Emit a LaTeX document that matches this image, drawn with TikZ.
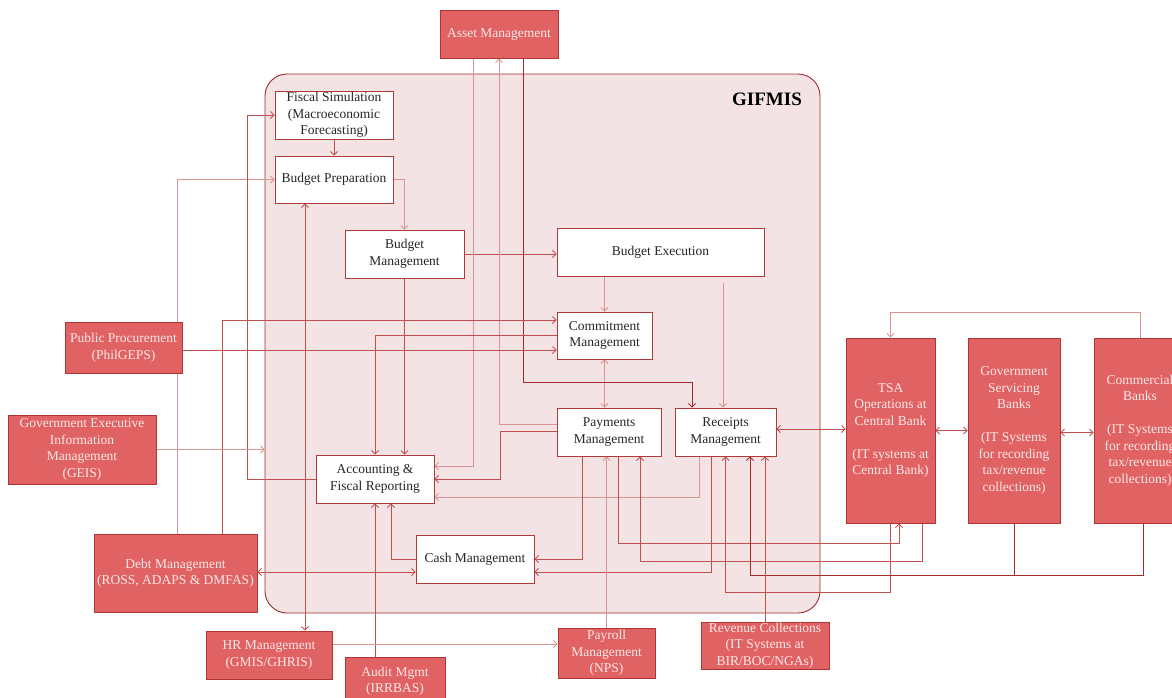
\documentclass[tikz,border=0pt]{standalone}
\usepackage{fontspec}
\setmainfont{Liberation Serif}
\usetikzlibrary{arrows.meta}
\definecolor{redfill}{HTML}{E06262}
\definecolor{extline}{HTML}{B03535}
\definecolor{exttext}{HTML}{FCE8E8}
\definecolor{contfill}{HTML}{F3E3E5}
\definecolor{contline}{HTML}{9B2C2C}
\definecolor{boxline}{HTML}{B03A3A}
\definecolor{lnorm}{HTML}{C0504D}
\definecolor{llight}{HTML}{D99594}
\definecolor{ldark}{HTML}{A52A2A}
\pgfdeclarelayer{back}
\pgfdeclarelayer{bg}
\pgfsetlayers{back,bg,main}
\begin{document}
\begin{tikzpicture}[x=1pt,y=-1pt,
  >={Straight Barb[length=3.5pt,width=7pt]},
  txt/.style={align=center,font=\fontsize{13.5}{16.5}\selectfont,inner sep=0pt},
  inbox/.style={txt,draw=boxline,fill=white,line width=0.9pt,text=black!85},
  extbox/.style={txt,draw=extline,fill=redfill,line width=0.9pt,text=exttext},
  conn/.style={draw=lnorm,line width=0.8pt},
  connl/.style={draw=llight,line width=0.9pt},
  connd/.style={draw=ldark,line width=0.9pt}]
\useasboundingbox (0,0) rectangle (1172,697);

% container
\begin{pgfonlayer}{back}
\node[draw=contline,fill=contfill,line width=0.9pt,rounded corners=22pt,
  minimum width=555pt,minimum height=539pt,inner sep=0pt] (gifmis) at (542.5,343.5) {};
\end{pgfonlayer}
\node[font=\fontsize{19}{22}\selectfont\bfseries,inner sep=0pt] (gtitle) at (767,99) {GIFMIS};

% internal boxes
\node[inbox,minimum width=118pt,minimum height=48pt] (fiscal) at (334,115) {Fiscal Simulation\\(Macroeconomic\\Forecasting)};
\node[inbox,minimum width=118pt,minimum height=47pt] (bprep) at (334,179.5) {Budget Preparation};
\node[inbox,minimum width=119pt,minimum height=48pt] (bmgmt) at (404.5,254) {Budget\\Management};
\node[inbox,minimum width=207pt,minimum height=48pt] (bexec) at (660.5,252) {Budget Execution};
\node[inbox,minimum width=95pt,minimum height=47pt] (commit) at (604.5,335.5) {Commitment\\Management};
\node[inbox,minimum width=104pt,minimum height=48pt] (pay) at (609,432) {Payments\\Management};
\node[inbox,minimum width=101pt,minimum height=48pt] (rec) at (725.5,432) {Receipts\\Management};
\node[inbox,minimum width=118pt,minimum height=48pt] (acct) at (375,479) {Accounting \&\\Fiscal Reporting};
\node[inbox,minimum width=118pt,minimum height=48pt] (cash) at (475,559) {Cash Management};

% external boxes
\node[extbox,minimum width=118pt,minimum height=48pt] (asset) at (499,34) {Asset Management};
\node[extbox,minimum width=117pt,minimum height=51pt] (pp) at (123.5,347.5) {Public Procurement\\(PhilGEPS)};
\node[extbox,minimum width=148pt,minimum height=69pt] (geis) at (82,449.5) {Government Executive\\Information\\Management\\(GEIS)};
\node[extbox,minimum width=163pt,minimum height=78pt] (debt) at (175.5,573) {Debt Management\\(ROSS, ADAPS \& DMFAS)};
\node[extbox,minimum width=126pt,minimum height=48pt] (hr) at (269,655) {HR Management\\(GMIS/GHRIS)};
\node[extbox,minimum width=100pt,minimum height=48pt] (audit) at (395,681) {Audit Mgmt\\(IRRBAS)};
\node[extbox,minimum width=97pt,minimum height=50pt] (payroll) at (606.5,653) {Payroll\\Management\\(NPS)};
\node[extbox,minimum width=128pt,minimum height=47pt] (rev) at (765,645.5) {Revenue Collections\\(IT Systems at\\BIR/BOC/NGAs)};
\node[extbox,minimum width=89pt,minimum height=185pt] (tsa) at (890.5,430.5) {TSA\\Operations at\\Central Bank\\[16.5pt](IT systems at\\Central Bank)};
\node[extbox,minimum width=92pt,minimum height=185pt] (gsb) at (1014,430.5) {Government\\Servicing\\Banks\\[16.5pt](IT Systems\\for recording\\tax/revenue\\collections)};
\node[extbox,minimum width=92pt,minimum height=185pt] (comm) at (1140,430.5) {Commercial\\Banks\\[16.5pt](IT Systems\\for recording\\tax/revenue\\collections)};

\begin{pgfonlayer}{bg}
% budget flow
\draw[conn,->] (fiscal.south) -- (bprep.north);
\draw[connl,->] (bprep.east) -| (bmgmt.north);
\draw[conn,->] (bmgmt.east) -- (bmgmt.east -| bexec.west);
\draw[connl,->] (bexec.south -| commit.north) -- (commit.north);
\draw[connl,->] ([xshift=-2.5pt,yshift=-7pt]bexec.south -| rec.north) -- ([xshift=-2.5pt]rec.north);
\draw[connl,<->] (commit.south) -- (commit.south |- pay.north);
\draw[conn,->] (bmgmt.south) -- (bmgmt.south |- acct.north);
% asset management
\draw[connl,->] ([xshift=-26pt]asset.south) |- ([yshift=13pt]acct.east);
\draw[connl,->] ([yshift=8pt]pay.west) -| (asset.south);
\draw[connd,->] ([xshift=24pt]asset.south) |- ([xshift=-33.5pt,yshift=25pt]rec.north) -- ([xshift=-33.5pt]rec.north);
% to accounting / cash
\draw[conn,->] ([yshift=1pt]pay.west) -| ([xshift=66pt]acct.east) -- (acct.east);
\draw[connl,->] ([xshift=-26.5pt]rec.south) |- ([yshift=-18pt]acct.east);
\draw[conn,->] ([xshift=-27pt]pay.south) |- (cash.east);
\draw[conn,->] ([xshift=-14.5pt]rec.south) |- ([yshift=-13pt]cash.east);
\draw[conn,->] (cash.west) -| ([xshift=16pt]acct.south);
\draw[conn,<->] ([yshift=-13pt]cash.west) -- ([yshift=-13pt]cash.west -| debt.east);
\draw[conn,->] (commit.west) -| (acct.north);
% payroll / TSA
\draw[connl,->] (payroll.north) -- (payroll.north |- pay.south);
\draw[conn,->] ([xshift=9pt]pay.south) |- ([xshift=8.5pt,yshift=-20pt]tsa.south) -- ([xshift=8.5pt]tsa.south);
\draw[conn,->] ([xshift=31.5pt]tsa.south) |- ([xshift=31pt,yshift=-105pt]pay.south) -- ([xshift=31pt]pay.south);
\draw[conn,->] (tsa.south) |- ([yshift=-136pt]rec.south) -- (rec.south);
\draw[connd,->] ([xshift=3pt]comm.south) |- ([xshift=24.5pt,yshift=-119pt]rec.south) -- ([xshift=24.5pt]rec.south);
\draw[connd] (gsb.south) -- ++(0,52);
\draw[conn,->] (rev.north) -- (rev.north |- rec.south);
\draw[conn,<->] ([yshift=3pt]rec.east) -- ([yshift=3pt]rec.east -| tsa.west);
\draw[conn,<->] (tsa.east) -- (tsa.east -| gsb.west);
\draw[conn,<->] ([yshift=-2pt]gsb.east) -- ([yshift=-2pt]gsb.east -| comm.west);
\draw[connl,->] (comm.north) |- ([yshift=25pt]tsa.north) -- (tsa.north);
% left side
\draw[conn,->] ([yshift=-2.5pt]pp.east) -- ([yshift=-2.5pt]pp.east -| commit.west);
\draw[connl,->] ([xshift=1.5pt]debt.north) |- (bprep.west);
\draw[conn,->] ([xshift=46.5pt]debt.north) |- ([yshift=15.5pt]commit.west);
\draw[conn,->] (acct.west) -| ([xshift=-27pt]fiscal.west) -- (fiscal.west);
\draw[connl,->] (geis.east) -- (geis.east -| gifmis.west);
\draw[conn,<->] ([xshift=-29pt]bprep.south) -- ([xshift=36pt]hr.north);
\draw[conn,->] (audit.north -| acct.south) -- (acct.south);
\draw[connl,->] ([yshift=11pt]hr.east) -- ([yshift=11pt]hr.east -| payroll.west);
\end{pgfonlayer}
\end{tikzpicture}
\end{document}
